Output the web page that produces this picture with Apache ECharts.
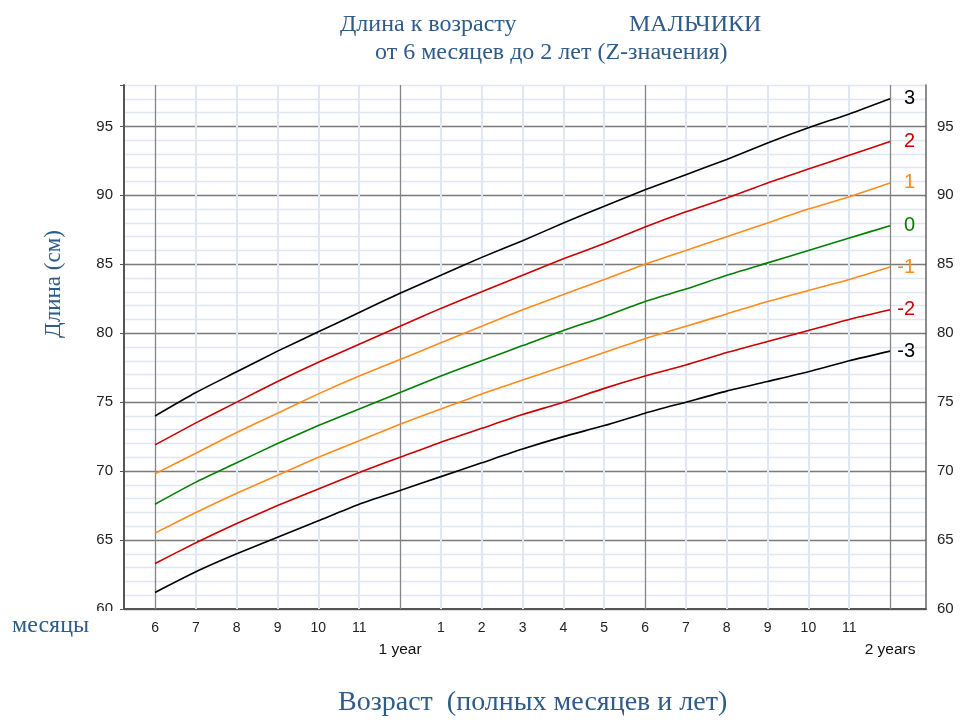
<!DOCTYPE html>
<html><head><meta charset="utf-8">
<script src="https://cdn.jsdelivr.net/npm/echarts@6/dist/echarts.min.js"></script>
<style>html,body{margin:0;padding:0;background:#fff}#c{width:960px;height:720px}</style>
</head><body><div id="c"></div>
<script>
const months = [6,7,8,9,10,11,12,13,14,15,16,17,18,19,20,21,22,23,24];
const zNames = ['3','2','1','0','-1','-2','-3'];
const zP3 = [74.0,75.7,77.2,78.7,80.1,81.5,82.9,84.2,85.5,86.7,88.0,89.2,90.4,91.5,92.6,93.8,94.9,95.9,97.0];
const zP2 = [71.9,73.5,75.0,76.5,77.9,79.2,80.5,81.8,83.0,84.2,85.4,86.5,87.7,88.8,89.8,90.9,91.9,92.9,93.9];
const zP1 = [69.8,71.3,72.8,74.2,75.6,76.9,78.1,79.3,80.5,81.7,82.8,83.9,85.0,86.0,87.0,88.0,89.0,89.9,90.9];
const z0  = [67.6,69.2,70.6,72.0,73.3,74.5,75.7,76.9,78.0,79.1,80.2,81.2,82.3,83.2,84.2,85.1,86.0,86.9,87.8];
const zM1 = [65.5,67.0,68.4,69.7,71.0,72.2,73.4,74.5,75.6,76.6,77.6,78.6,79.6,80.5,81.4,82.3,83.1,83.9,84.8];
const zM2 = [63.3,64.8,66.2,67.5,68.7,69.9,71.0,72.1,73.1,74.1,75.0,76.0,76.9,77.7,78.6,79.4,80.2,81.0,81.7];
const zM3 = [61.2,62.7,64.0,65.2,66.4,67.6,68.6,69.6,70.6,71.6,72.5,73.3,74.2,75.0,75.8,76.5,77.2,78.0,78.7];
const zValues = [zP3,zP2,zP1,z0,zM1,zM2,zM3];
const zColors = ['#000000','#cc0000','#ff8c1a','#008000','#ff8c1a','#cc0000','#000000'];
const monthTicks = [6,7,8,9,10,11,12,13,14,15,16,17,18,19,20,21,22,23,24];
const monthLabels = ['6','7','8','9','10','11','','1','2','3','4','5','6','7','8','9','10','11',''];
const yearTicks = [12,24];
const yearLabels = ['1 year','2 years'];
const majorMonths = [6,12,18,24];
const minorMonths = [7,8,9,10,11,13,14,15,16,17,19,20,21,22,23];

const X_MIN = 5.24, X_MAX = 24.88;
const titleColor = '#2f5b88';
const serif = '"Liberation Serif", "DejaVu Serif", serif';
const sans = '"Liberation Sans", Arial, sans-serif';

const series = zNames.map((name, i) => ({
  name: name,
  type: 'line',
  data: months.map((m, j) => [m, zValues[i][j]]),
  showSymbol: false,
  smooth: 0.2,
  z: 5,
  lineStyle: {color: zColors[i], width: 1.6},
  itemStyle: {color: zColors[i]},
  endLabel: {show: true, formatter: name, color: zColors[i], fontSize: 20, fontFamily: sans,
             align: 'right', distance: 25},
  silent: true
}));

series.push({
  type: 'line', data: [], z: 1, silent: true,
  markLine: {
    silent: true, symbol: 'none', label: {show: false}, animation: false,
    data: minorMonths.map(m => ({xAxis: m, lineStyle: {color: '#dfe7f5', width: 2, type: 'solid'}}))
          .concat(majorMonths.map(m => ({xAxis: m, lineStyle: {color: '#858585', width: 1.3, type: 'solid'}})))
  }
});

const chart = echarts.init(document.getElementById('c'), null, {renderer: 'canvas'});
chart.setOption({
  animation: false,
  backgroundColor: '#ffffff',
  grid: {left: 124, right: 34, top: 85, bottom: 111, containLabel: false},
  xAxis: [{
    type: 'value', min: X_MIN, max: X_MAX,
    axisLine: {show: true, onZero: false, lineStyle: {color: '#555', width: 2}},
    axisTick: {show: false},
    splitLine: {show: false},
    axisLabel: {
      show: true, customValues: monthTicks, margin: 9, fontSize: 14, fontFamily: sans, color: '#222',
      lineHeight: 21,
      rich: {yr: {fontSize: 15.5, fontFamily: sans, color: '#111', lineHeight: 21}},
      formatter: function (v) {
        const k = monthTicks.indexOf(Math.round(v));
        if (k < 0) return '';
        const y = yearTicks.indexOf(Math.round(v));
        return y >= 0 ? '\n{yr|' + yearLabels[y] + '}' : monthLabels[k];
      }
    }
  }],
  yAxis: [{
    type: 'value', min: 60, max: 98, interval: 1, position: 'left',
    axisLine: {show: true, onZero: false, lineStyle: {color: '#555', width: 2}},
    axisTick: {show: false},
    splitLine: {show: true, lineStyle: {color: ['#7a7a7a','#dfe7f5','#dfe7f5','#dfe7f5','#dfe7f5'], width: 1.3}},
    axisLabel: {margin: 11, fontSize: 15, fontFamily: sans, color: '#222', showMaxLabel: false,
      formatter: v => (v % 5 === 0 ? String(v) : '')}
  }, {
    type: 'value', min: 60, max: 98, interval: 5, position: 'right',
    axisLine: {show: true, onZero: false, lineStyle: {color: '#666', width: 1.5}},
    axisTick: {show: false},
    splitLine: {show: false},
    axisLabel: {margin: 11, fontSize: 15, fontFamily: sans, color: '#222', showMaxLabel: false,
      formatter: v => (v % 5 === 0 ? String(v) : '')}
  }, {
    type: 'value', min: 60, max: 98, interval: 5, position: 'left',
    axisLine: {show: false}, axisTick: {show: true, length: 4, lineStyle: {color: '#555'}},
    splitLine: {show: false}, axisLabel: {show: false}
  }],
  series: series,
  graphic: [
    {type: 'rect', left: 70, top: 611, shape: {width: 52, height: 16}, style: {fill: '#fff'}, z: 100, silent: true},
    {type: 'text', left: 340, top: 13, z: 101, style: {text: 'Длина к возрасту', font: '24px ' + serif, fill: titleColor}},
    {type: 'text', left: 629, top: 13, z: 101, style: {text: 'МАЛЬЧИКИ', font: '24px ' + serif, fill: titleColor}},
    {type: 'text', left: 375, top: 41, z: 101, style: {text: 'от 6 месяцев до 2 лет (Z-значения)', font: '24px ' + serif, fill: titleColor}},
    {type: 'text', left: 12, top: 614, z: 101, style: {text: 'месяцы', font: '24px ' + serif, fill: titleColor}},
    {type: 'text', left: 338, top: 689, z: 101, style: {text: 'Возраст  (полных месяцев и лет)', font: '28px ' + serif, fill: titleColor}},
    {type: 'text', x: 54, y: 284, rotation: Math.PI / 2, z: 101,
      style: {text: 'Длина (см)', font: '23px ' + serif, fill: titleColor, align: 'center', verticalAlign: 'middle'}}
  ]
});
</script></body></html>
